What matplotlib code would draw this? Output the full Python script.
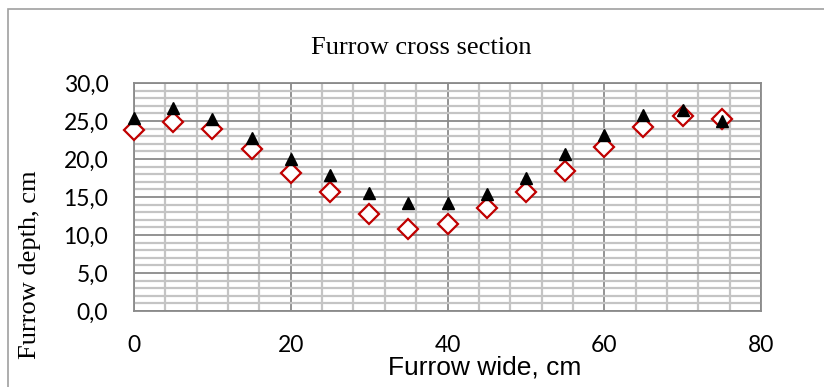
import matplotlib
matplotlib.use("Agg")
import matplotlib.pyplot as plt
from matplotlib.ticker import MultipleLocator, FuncFormatter
from matplotlib.patches import Rectangle

# Data
width_cm = [0, 5, 10, 15, 20, 25, 30, 35, 40, 45, 50, 55, 60, 65, 70, 75]
depth_triangle = [25.4, 26.7, 25.3, 22.7, 20.0, 17.9, 15.5, 14.2, 14.2, 15.4, 17.5, 20.7, 23.2, 25.8, 26.4, 25.0]
depth_diamond = [23.8, 24.9, 23.9, 21.3, 18.2, 15.6, 12.7, 10.8, 11.4, 13.5, 15.7, 18.4, 21.6, 24.2, 25.6, 25.3]
title_text = "Furrow cross section"
xlabel_text = "Furrow wide, cm"
ylabel_text = "Furrow depth, cm"

W, H = 824, 387
fig = plt.figure(figsize=(W / 100, H / 100), dpi=100)
ax = fig.add_axes([134 / W, 1 - 311 / H, (761 - 134) / W, (311 - 83) / H])

ax.set_xlim(0, 80)
ax.set_ylim(0, 30)
ax.xaxis.set_major_locator(MultipleLocator(20))
ax.xaxis.set_minor_locator(MultipleLocator(4))
ax.yaxis.set_major_locator(MultipleLocator(5))
ax.yaxis.set_minor_locator(MultipleLocator(1))
ax.yaxis.set_major_formatter(FuncFormatter(lambda v, p: f"{v:.1f}".replace(".", ",")))

ax.grid(which="minor", color="#c4c4c4", linewidth=1.6)
ax.grid(which="major", color="#8a8a8a", linewidth=1.3)
ax.set_axisbelow(True)
for s in ax.spines.values():
    s.set_color("#8a8a8a")
    s.set_linewidth(1.3)

ax.tick_params(which="both", length=0)
ax.tick_params(axis="y", pad=18.5, labelsize=16.5)
ax.tick_params(axis="x", pad=17, labelsize=16.5)
for lab in ax.get_xticklabels() + ax.get_yticklabels():
    lab.set_family("Lato")

ax.plot(width_cm, depth_diamond, linestyle="none", marker="D", markersize=10,
        markerfacecolor="white", markeredgecolor="#c00000", markeredgewidth=1.6,
        zorder=3, clip_on=False)
ax.plot(width_cm, depth_triangle, linestyle="none", marker="^", markersize=8.5,
        color="black", zorder=4, clip_on=False)

fig.text(421 / W, 1 - 54 / H, title_text, family="Liberation Serif", fontsize=19,
         ha="center", va="baseline")
fig.text(485 / W, 1 - 374 / H, xlabel_text, family="Liberation Sans", fontsize=19,
         ha="center", va="baseline")
fig.text(30 / W, 1 - 265 / H, ylabel_text, family="Liberation Serif", fontsize=19,
         ha="center", va="center", rotation=90)

frame = Rectangle((8 / W, -0.05), 1.1, 1 - 9 / H + 0.05, transform=fig.transFigure,
                  fill=False, edgecolor="#a0a0a0", linewidth=1.2, clip_on=False)
fig.patches.append(frame)

fig.savefig("out.png", dpi=100)
